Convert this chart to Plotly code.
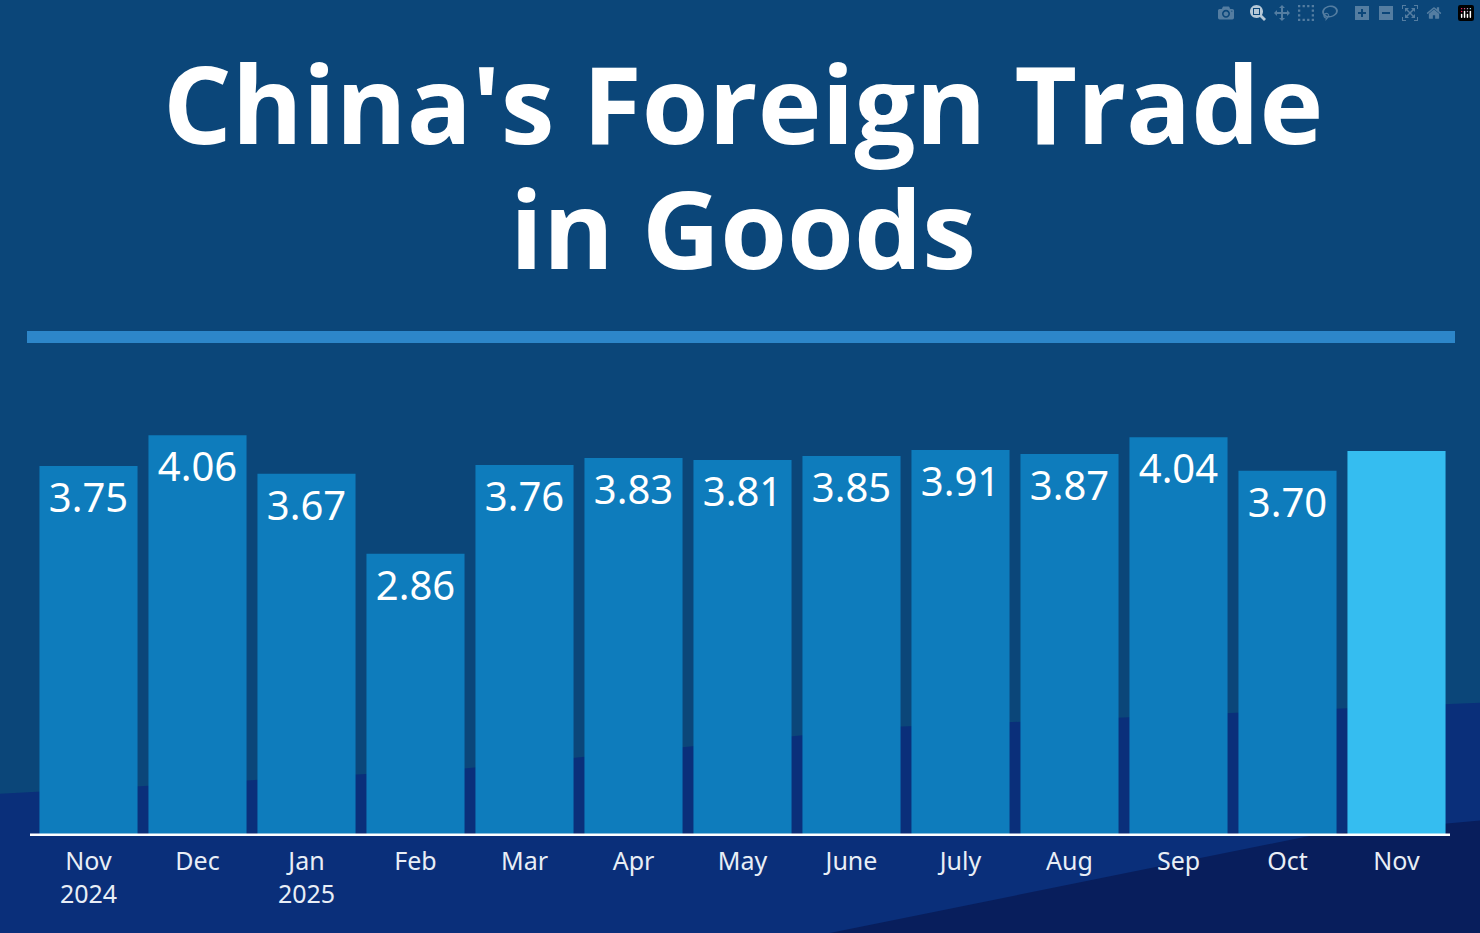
import plotly.graph_objects as go

months = ["Nov<br>2024", "Dec", "Jan<br>2025", "Feb", "Mar", "Apr", "May",
          "June", "July", "Aug", "Sep", "Oct", "Nov"]
values = [3.75, 4.06, 3.67, 2.86, 3.76, 3.83, 3.81, 3.85, 3.91, 3.87, 4.04, 3.70, 3.90]
labels = ["3.75", "4.06", "3.67", "2.86", "3.76", "3.83", "3.81", "3.85",
          "3.91", "3.87", "4.04", "3.70", ""]

colors = ["#0e7cbc"] * 12 + ["#35bdf0"]

fig = go.Figure(go.Bar(
    x=months, y=values, text=labels,
    textposition="inside", insidetextanchor="end",
    textfont=dict(family="Noto Sans", size=40, color="white"),
    marker=dict(color=colors, line=dict(width=0)),
    hoverinfo="skip",
))

W, H = 1480, 933
fig.update_layout(
    width=W, height=H,
    margin=dict(l=34, r=29, t=0, b=97),
    paper_bgcolor="#0b4679", plot_bgcolor="rgba(0,0,0,0)",
    bargap=0.1, showlegend=False,
    font=dict(family="Noto Sans", color="white"),
    xaxis=dict(showgrid=False, zeroline=False, ticks="",
               tickfont=dict(size=25, color="#e8eef6"), ticklabelstandoff=8),
    yaxis=dict(range=[0, 836 / 98.7], visible=False, fixedrange=True),
    shapes=[
        # darker navy backdrop at the bottom
        dict(type="path", xref="paper", yref="paper", layer="below",
             path="M -0.03 -0.12 L -0.03 0.05 L 0.3 0.08 L 0.6 0.13 L 1.03 0.16 L 1.03 -0.12 Z",
             fillcolor="#0a2f7a", line=dict(width=0)),
        dict(type="path", xref="paper", yref="paper", layer="below",
             path="M 0.55 -0.12 L 0.9 0.0 L 1.03 0.02 L 1.03 -0.12 Z",
             fillcolor="#081e5c", line=dict(width=0)),
        # divider under the title
        dict(type="rect", xref="paper", yref="paper", layer="above",
             x0=(27 - 34) / 1417, x1=(1455 - 34) / 1417,
             y0=(836 - 343) / 836, y1=(836 - 331) / 836,
             fillcolor="#2d86c9", line=dict(width=0)),
        # white baseline
        dict(type="line", xref="paper", yref="y", layer="above",
             x0=(30 - 34) / 1417, x1=(1450 - 34) / 1417, y0=0, y1=0,
             line=dict(color="white", width=5)),
    ],
    annotations=[
        dict(text="<b>China's Foreign Trade</b>", xref="paper", yref="paper",
             x=0.5, y=(836 - 102) / 836, yanchor="middle", showarrow=False,
             font=dict(family="Open Sans", size=108, color="white")),
        dict(text="<b>in Goods</b>", xref="paper", yref="paper",
             x=0.5, y=(836 - 228) / 836, yanchor="middle", showarrow=False,
             font=dict(family="Open Sans", size=108, color="white")),
    ],
)

fig.write_html("out.html", post_script="document.body.style.margin='0';")
